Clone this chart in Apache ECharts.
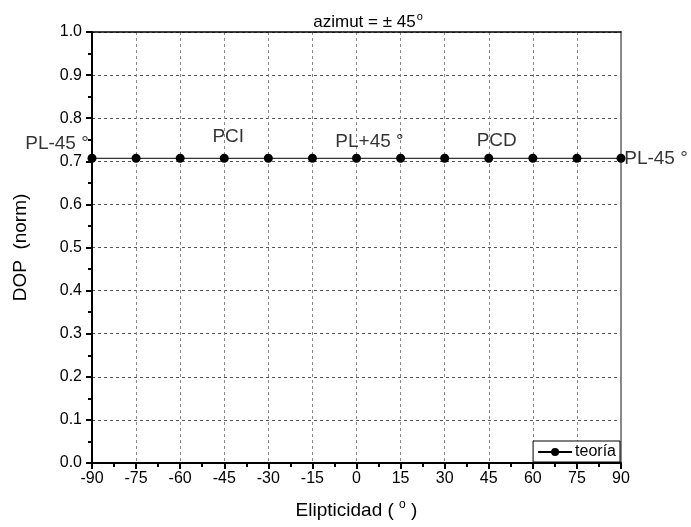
<!DOCTYPE html>
<html>
<head>
<meta charset="utf-8">
<script src="https://cdn.jsdelivr.net/npm/echarts@6/dist/echarts.min.js"></script>
<style>
  html, body { margin: 0; padding: 0; background: #fff; }
  #chart { width: 691px; height: 527px; }
</style>
</head>
<body>
<div id="chart"></div>
<script>
// datos
const elipticidad = [-90, -75, -60, -45, -30, -15, 0, 15, 30, 45, 60, 75, 90];
const dopTeoria = [0.707, 0.707, 0.707, 0.707, 0.707, 0.707, 0.707, 0.707, 0.707, 0.707, 0.707, 0.707, 0.707];
// etiquetas de polarizacion
const notaTexto = ["PL-45 °", "PCI", "PL+45 °", "PCD", "PL-45 °"];
const notaX = [-90, -45, 0, 45, 90];
const notaY = [0.707, 0.707, 0.707, 0.707, 0.707];

const fuente = "Liberation Sans, Arial, sans-serif";
const myChart = echarts.init(document.getElementById("chart"));

// desplazamiento de cada etiqueta respecto a su punto (px)
const notaOff = [[-35, -15], [4, -22], [13, -17], [8, -18], [35, 0]];

const option = {
  animation: false,
  textStyle: { fontFamily: fuente },
  title: {
    text: "azimut = ± 45{s|o}",
    left: 363,
    top: 6,
    textAlign: "center",
    textStyle: {
      fontFamily: fuente, fontSize: 17, fontWeight: "normal", color: "#000",
      rich: { s: { fontSize: 11, verticalAlign: "top", padding: [0, 0, 11, 1], fontFamily: fuente, color: "#000" } }
    }
  },
  grid: { left: 92, right: 70, top: 32, bottom: 64, containLabel: false, outerBoundsMode: "none" },
  legend: {
    right: 71,
    bottom: 65,
    data: ["teoría"],
    itemWidth: 34,
    itemHeight: 10,
    itemGap: 4,
    padding: [3, 4, 2, 4],
    borderColor: "#000",
    borderWidth: 1,
    borderRadius: 0,
    backgroundColor: "#fff",
    textStyle: { fontFamily: fuente, fontSize: 16, color: "#000", padding: [0, 0, 0, -2] }
  },
  xAxis: [{
    type: "value",
    min: -90, max: 90, interval: 15,
    name: "Elipticidad ( {s|o} )",
    nameLocation: "middle",
    nameGap: 36,
    nameTextStyle: { fontFamily: fuente, fontSize: 19, color: "#000",
      rich: { s: { fontSize: 12, verticalAlign: "top", padding: [0, 0, 12, 0], fontFamily: fuente, color: "#000" } } },
    axisLine: { onZero: false, lineStyle: { color: "#000", width: 2 } },
    axisTick: { inside: false, length: 6, lineStyle: { color: "#000", width: 2 } },
    minorTick: { show: true, splitNumber: 2, length: 4, lineStyle: { color: "#000", width: 2 } },
    axisLabel: { fontFamily: fuente, fontSize: 16, color: "#000", margin: 8 },
    splitLine: { show: true, lineStyle: { color: "#888", type: [3, 3], width: 1 } }
  }, {
    type: "value", position: "top",
    min: -90, max: 90, interval: 15,
    axisLine: { show: true, onZero: false, lineStyle: { color: "#000", width: 1.5 } },
    axisTick: { show: false }, axisLabel: { show: false }, splitLine: { show: false }
  }],
  yAxis: [{
    type: "value",
    min: 0, max: 1, interval: 0.1,
    name: "DOP  (norm)",
    nameLocation: "middle",
    nameGap: 62,
    nameTextStyle: { fontFamily: fuente, fontSize: 19, color: "#000" },
    axisLine: { show: true, onZero: false, lineStyle: { color: "#000", width: 2 } },
    axisTick: { show: true, inside: false, length: 6, lineStyle: { color: "#000", width: 2 } },
    minorTick: { show: true, splitNumber: 2, length: 4, lineStyle: { color: "#000", width: 2 } },
    axisLabel: { fontFamily: fuente, fontSize: 16, color: "#000", margin: 10,
      formatter: v => v.toFixed(1) },
    splitLine: { show: true, lineStyle: { color: "#555", type: [3, 3], width: 1 } }
  }, {
    type: "value", position: "right",
    min: 0, max: 1, interval: 0.1,
    axisLine: { show: true, onZero: false, lineStyle: { color: "#888", width: 2 } },
    axisTick: { show: false }, axisLabel: { show: false }, splitLine: { show: false }
  }],
  series: [{
    name: "teoría",
    type: "line",
    data: elipticidad.map((x, i) => [x, dopTeoria[i]]),
    symbol: "circle",
    symbolSize: 9,
    itemStyle: { color: "#000" },
    lineStyle: { color: "#000", width: 1 },
    z: 5
  }, {
    name: "notas",
    type: "scatter",
    symbolSize: 0,
    silent: true,
    data: notaX.map((x, i) => ({
      value: [x, notaY[i]],
      label: {
        show: true,
        formatter: notaTexto[i],
        position: "inside",
        offset: notaOff[i],
        fontFamily: fuente,
        fontSize: 19,
        color: "#000"
      }
    })),
    z: 6
  }]
};

option && myChart.setOption(option, true);
window.addEventListener("resize", function () {
  myChart.resize();
});
</script>
</body>
</html>
